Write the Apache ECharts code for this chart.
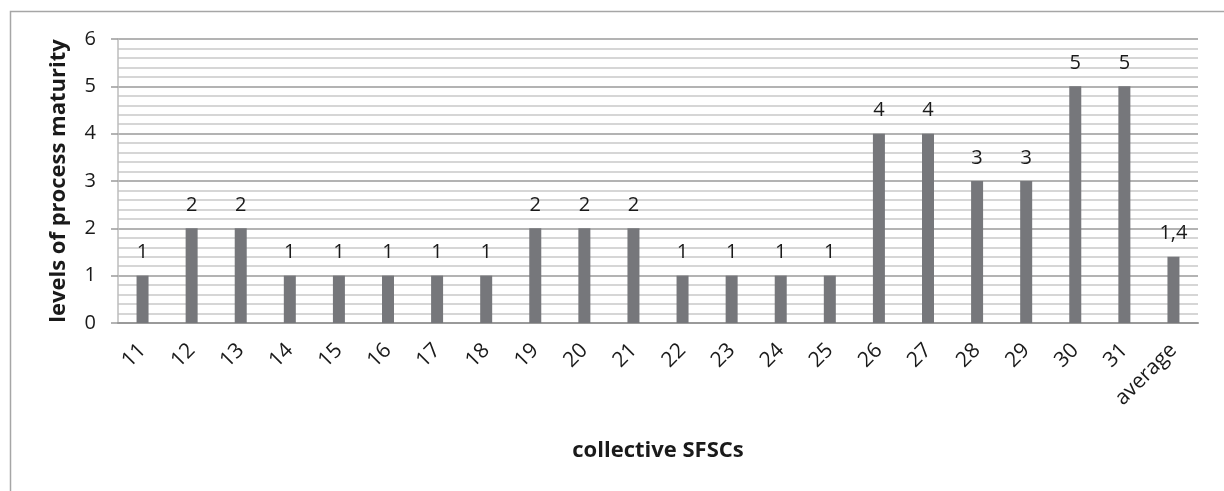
<!DOCTYPE html>
<html>
<head>
<meta charset="utf-8">
<script src="https://cdn.jsdelivr.net/npm/echarts@6/dist/echarts.min.js"></script>
<style>
  html, body { margin: 0; padding: 0; background: #fff; }
  #chart { width: 1224px; height: 491px; }
</style>
</head>
<body>
<div id="chart"></div>
<script>
// Maturity level per collective SFSC, plus the overall average
const categories = ['11', '12', '13', '14', '15', '16', '17', '18', '19', '20', '21',
  '22', '23', '24', '25', '26', '27', '28', '29', '30', '31', 'average'];
const maturity = [1, 2, 2, 1, 1, 1, 1, 1, 2, 2, 2, 1, 1, 1, 1, 4, 4, 3, 3, 5, 5, 1.4];
const yTicks = [0, 1, 2, 3, 4, 5, 6];

const FONT = '"Open Sans", "Liberation Sans", sans-serif';

const chart = echarts.init(document.getElementById('chart'), null, { renderer: 'canvas' });

chart.setOption({
  animation: false,
  backgroundColor: '#ffffff',
  graphic: [{
    type: 'rect',
    left: 8, top: 9,
    shape: { width: 1240, height: 520 },
    style: { fill: 'none', stroke: '#a6a6a6', lineWidth: 1.5 },
    silent: true
  }],
  grid: { left: 118, right: 26, top: 39, bottom: 168 },
  xAxis: {
    type: 'category',
    data: categories,
    name: 'collective SFSCs',
    nameLocation: 'middle',
    nameGap: 117,
    nameTextStyle: { fontFamily: FONT, fontSize: 22, fontWeight: 'bold', color: '#1a1a1a' },
    axisLine: { lineStyle: { color: '#9a9a9a', width: 2 } },
    axisTick: { show: false },
    axisLabel: { rotate: 45, margin: 24, fontFamily: FONT, fontSize: 21, color: '#1a1a1a', interval: 0 },
    splitLine: { show: false }
  },
  yAxis: {
    type: 'value',
    min: yTicks[0],
    max: yTicks[yTicks.length - 1],
    interval: 1,
    name: 'levels of process maturity',
    nameLocation: 'middle',
    nameGap: 48,
    nameTextStyle: { fontFamily: FONT, fontSize: 22, fontWeight: 'bold', color: '#1a1a1a' },
    axisLine: { show: true, lineStyle: { color: '#bdbdbd', width: 1.5 } },
    axisTick: { show: true, length: 7, lineStyle: { color: '#9a9a9a', width: 1.5 } },
    axisLabel: { margin: 22, fontFamily: FONT, fontSize: 20, color: '#1a1a1a' },
    splitLine: { show: true, lineStyle: { color: '#9a9a9a', width: 1.5 } },
    minorTick: { show: false, splitNumber: 5 },
    minorSplitLine: { show: true, lineStyle: { color: '#c9c9c9', width: 1.5 } }
  },
  series: [{
    type: 'bar',
    data: maturity,
    barWidth: 12,
    itemStyle: { color: '#76777b' },
    label: {
      show: true,
      position: 'top',
      distance: 13,
      fontFamily: FONT,
      fontSize: 20,
      color: '#1a1a1a',
      formatter: p => String(p.value).replace('.', ',')
    }
  }]
});
</script>
</body>
</html>
